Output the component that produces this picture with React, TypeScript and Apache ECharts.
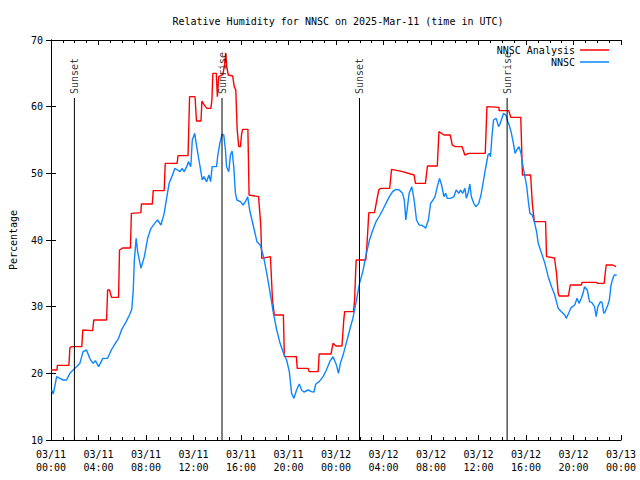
import React, { useEffect, useRef } from "react";
import * as echarts from "echarts";

// Hours since 2025-03-11 00:00 UTC, relative humidity (%)
const analysisPoints: [number, number][] = [
  [0.0, 20.5], [0.5, 20.5], [0.54, 21.2], [1.51, 21.2], [1.59, 23.8], [1.71, 24], [2.59, 24], [2.68, 26.5], [3.51, 26.4], [3.6, 28],
  [4.68, 28], [4.77, 32.5], [4.93, 32.5], [5.1, 31.4], [5.69, 31.4], [5.77, 38.5], [6.02, 38.8], [6.69, 38.8], [6.77, 44], [7.57, 44.1],
  [7.61, 45.4], [8.53, 45.4], [8.61, 47.4], [9.53, 47.4], [9.62, 51.5], [10.62, 51.5], [10.7, 52.65], [11.54, 52.65], [11.67, 61.5], [12.13, 61.5],
  [12.25, 57.85], [12.63, 57.85], [12.71, 60.85], [12.88, 60.3], [13.13, 59.75], [13.46, 59.75], [13.55, 61], [13.63, 65], [13.92, 65], [14.01, 61.5],
  [14.13, 64.5], [14.47, 64.8], [14.59, 66], [14.72, 68], [14.8, 66], [14.93, 64.75], [15.3, 64.6], [15.43, 63], [15.56, 62.5], [15.68, 56.5],
  [15.81, 54], [15.95, 54], [16.06, 56], [16.14, 56.6], [16.58, 56.6], [16.68, 46.75], [17.48, 46.5], [17.67, 42], [17.75, 37.25], [18.48, 37.5],
  [18.65, 31], [18.79, 29], [18.82, 28.75], [19.57, 28.75], [19.65, 22.5], [20.66, 22.5], [20.74, 20.75], [21.66, 20.75], [21.74, 20.25], [22.5, 20.25],
  [22.58, 22.9], [23.58, 22.9], [23.75, 24.5], [24.0, 24.1], [24.5, 24.1], [24.65, 27.9], [24.73, 29.25], [25.48, 29.25], [25.57, 31.1], [25.65, 35],
  [25.7, 37], [26.51, 37], [26.59, 38.8], [26.68, 41.5], [26.76, 44.1], [27.24, 44.1], [27.6, 47.5], [27.76, 47.75], [28.52, 47.75], [28.68, 50.6],
  [29.6, 50.25], [30.58, 49.75], [30.69, 48.5], [31.53, 48.5], [31.7, 51.1], [32.53, 51.1], [32.67, 56.25], [33.09, 55.75], [33.62, 55.75], [33.79, 54.25],
  [34.04, 54], [34.62, 54], [34.85, 52.75], [35.18, 53], [36.57, 53], [36.71, 60], [37.72, 59.9], [37.74, 59.4], [38.55, 59.4], [38.72, 58.4],
  [39.56, 58.4], [39.7, 49.75], [40.39, 49.75], [40.53, 45.5], [40.7, 42.75], [41.65, 42.75], [41.73, 37.5], [42.4, 37.3], [42.57, 35], [42.71, 32],
  [42.79, 31.6], [43.57, 31.6], [43.73, 33.25], [44.66, 33.25], [44.72, 33.65], [45.91, 33.65], [46.05, 33.5], [46.58, 33.5], [46.75, 36.25], [47.31, 36.25],
  [47.58, 36],
];

const observedPoints: [number, number][] = [
  [0.06, 17.5], [0.19, 16.9], [0.48, 19.5], [0.75, 19.25], [1.03, 19], [1.31, 19], [1.59, 20], [1.86, 20.5], [2.15, 21], [2.43, 21.5],
  [2.7, 23.25], [2.99, 23.5], [3.26, 22.25], [3.54, 21.5], [3.74, 21.9], [4.01, 21], [4.37, 22.25], [4.77, 22.25], [5.08, 23.5], [5.35, 24.3],
  [5.69, 25.25], [5.96, 26.6], [6.33, 27.75], [6.61, 28.75], [6.8, 29.6], [6.92, 32.25], [7.02, 37], [7.17, 40.25], [7.3, 38.25], [7.58, 35.75],
  [7.86, 37.5], [8.14, 40.25], [8.42, 41.75], [8.84, 42.75], [8.97, 43], [9.26, 42.25], [9.53, 44], [9.76, 46.5], [9.95, 48.5], [10.23, 49.75],
  [10.43, 50.75], [10.65, 50.5], [10.87, 50.25], [11.04, 50.75], [11.21, 50.25], [11.43, 51], [11.57, 51.75], [11.77, 51], [11.9, 55], [12.1, 56],
  [12.27, 54], [12.46, 52], [12.6, 50.5], [12.74, 49], [12.88, 49.5], [13.1, 48.75], [13.3, 49.75], [13.44, 48.75], [13.57, 51], [13.94, 51],
  [14.05, 52.75], [14.22, 54.5], [14.41, 55.9], [14.55, 55.75], [14.69, 53.5], [14.78, 51], [14.97, 50.25], [15.11, 52.75], [15.25, 53.35], [15.39, 51],
  [15.53, 47], [15.66, 46], [15.95, 45.75], [16.17, 45.25], [16.37, 45.75], [16.56, 46.5], [16.73, 44.5], [16.92, 43], [17.12, 41.5], [17.34, 39.75],
  [17.62, 39.25], [17.9, 37.5], [18.17, 35], [18.46, 32], [18.73, 29], [19.01, 26.5], [19.29, 24.5], [19.57, 23.1], [19.84, 22], [20.07, 20.25],
  [20.26, 17], [20.46, 16.25], [20.68, 17.5], [20.91, 18.4], [21.1, 17.5], [21.3, 17.2], [21.66, 17.5], [21.94, 17.25], [22.14, 17.2], [22.3, 18.4],
  [22.58, 18.75], [22.91, 19.5], [23.19, 20.5], [23.47, 21.75], [23.75, 22.5], [24.03, 21.3], [24.21, 20], [24.38, 21.6], [24.59, 22.7], [24.86, 24.5],
  [25.15, 26.5], [25.42, 28.25], [25.7, 30.75], [25.98, 33.5], [26.26, 35.25], [26.53, 37.75], [26.82, 40], [27.1, 41.5], [27.37, 42.75], [27.66, 43.6],
  [27.93, 44.5], [28.21, 45.5], [28.49, 46.5], [28.77, 47.25], [29.04, 47.6], [29.33, 47.5], [29.6, 47], [29.75, 46], [29.88, 43], [30.02, 45],
  [30.16, 47], [30.38, 48], [30.58, 46], [30.78, 43], [31.0, 42.25], [31.22, 42.2], [31.42, 42], [31.55, 41.75], [31.78, 43], [31.97, 45.5],
  [32.17, 46], [32.34, 46.5], [32.53, 48], [32.72, 49.25], [32.89, 48.25], [33.09, 46.5], [33.23, 47], [33.37, 46.25], [33.64, 46.25], [33.93, 46.5],
  [34.12, 47.5], [34.35, 47], [34.48, 47.5], [34.68, 47], [34.85, 47.75], [34.98, 46.25], [35.12, 47], [35.27, 48.4], [35.4, 46.5], [35.6, 45.5],
  [35.79, 45], [36.02, 45.5], [36.21, 46.75], [36.38, 48.5], [36.57, 50.5], [36.8, 52.75], [36.91, 53], [37.01, 52.5], [37.13, 55.5], [37.27, 58],
  [37.49, 58.25], [37.69, 57], [37.83, 57.5], [37.97, 58.25], [38.11, 59], [38.3, 58.75], [38.47, 57.75], [38.58, 57.25], [38.74, 56.25], [38.94, 54.5],
  [39.08, 53], [39.22, 53.5], [39.41, 54], [39.58, 53], [39.7, 51.5], [39.86, 50], [40.06, 48], [40.2, 45.75], [40.33, 44], [40.53, 43.75],
  [40.7, 42.75], [40.89, 41.25], [41.03, 39.5], [41.31, 38], [41.59, 36.5], [41.87, 34.5], [42.15, 33], [42.42, 31.75], [42.71, 29.75], [42.98, 29.25],
  [43.26, 28.75], [43.4, 28.25], [43.59, 29], [43.82, 29.9], [44.1, 30.25], [44.3, 31.25], [44.46, 30.5], [44.66, 31.25], [44.8, 32], [44.93, 33],
  [45.16, 32.5], [45.35, 30.75], [45.55, 30.6], [45.77, 30], [45.91, 28.5], [46.05, 30], [46.27, 30.75], [46.41, 30.6], [46.55, 29], [46.66, 29.2],
  [46.89, 30.25], [47.02, 31], [47.16, 33.25], [47.31, 34.25], [47.44, 34.75], [47.64, 34.75],
];

const eventHours = [1.97, 14.4, 25.98, 38.41];
const eventNames = ["Sunset", "Sunrise", "Sunset", "Sunrise"];
const eventLineTop = 61.3;

const seriesNames = ["NNSC Analysis", "NNSC"];
const seriesColors = ["#ff0000", "#0d86ff"];
const startDay = 11;
const titleText = "Relative Humidity for NNSC on 2025-Mar-11 (time in UTC)";
const yAxisTitle = "Percentage";

const FONT = "DejaVu Sans Mono";

function fmtHour(v: number): string {
  const day = startDay + Math.floor(v / 24 + 1e-9);
  const hh = Math.round(v - (day - startDay) * 24);
  const p = (n: number) => (n < 10 ? "0" + n : "" + n);
  return `03/${p(day)}\n${p(hh)}:00`;
}

export default function App() {
  const ref = useRef<HTMLDivElement>(null);
  useEffect(() => {
    if (!ref.current) return;
    const chart = echarts.init(ref.current, undefined, { renderer: "svg" });
    const black = "#000";
    const xBase = {
      type: "value",
      min: 0,
      max: 48,
      interval: 4,
      axisLine: { show: true, lineStyle: { color: black, width: 1 } },
      axisTick: { show: true, inside: true, length: 5, lineStyle: { color: black } },
      minorTick: { show: true, splitNumber: 4, length: 3, lineStyle: { color: black } },
      splitLine: { show: false },
    };
    const yBase = {
      type: "value",
      min: 10,
      max: 70,
      interval: 10,
      axisLine: { show: true, lineStyle: { color: black, width: 1 } },
      axisTick: { show: true, inside: true, length: 5, lineStyle: { color: black } },
      splitLine: { show: false },
    };
    const option: any = {
      animation: false,
      textStyle: { fontFamily: FONT },
      title: {
        text: titleText,
        left: 333,
        textAlign: "center",
        top: 11,
        textStyle: { fontFamily: FONT, fontSize: 10, fontWeight: "normal", color: black },
      },
      grid: { left: 46, right: 19, top: 40, bottom: 40 },
      legend: {
        data: seriesNames,
        orient: "vertical",
        align: "right",
        right: 26,
        top: 40,
        icon: "rect",
        itemWidth: 29,
        itemHeight: 1.5,
        itemGap: 2,
        textStyle: { fontFamily: FONT, fontSize: 10, color: black },
      },
      xAxis: [
        {
          ...xBase,
          position: "bottom",
          axisLabel: {
            show: true,
            formatter: fmtHour,
            color: black,
            fontFamily: FONT,
            fontSize: 10,
            lineHeight: 13,
            margin: 8,
            showMinLabel: true,
            showMaxLabel: true,
          },
        },
        { ...xBase, position: "top", axisLabel: { show: false } },
      ],
      yAxis: [
        {
          ...yBase,
          position: "left",
          name: yAxisTitle,
          nameLocation: "middle",
          nameGap: 33,
          nameTextStyle: { fontFamily: FONT, fontSize: 10, color: black },
          axisLabel: { color: black, fontFamily: FONT, fontSize: 10, margin: 8 },
        },
        { ...yBase, position: "right", axisLabel: { show: false } },
      ],
      series: [
        {
          name: seriesNames[0],
          type: "line",
          data: analysisPoints,
          symbol: "none",
          lineStyle: { color: seriesColors[0], width: 1.4 },
          itemStyle: { color: seriesColors[0] },
          z: 2,
        },
        {
          name: seriesNames[1],
          type: "line",
          data: observedPoints,
          symbol: "none",
          lineStyle: { color: seriesColors[1], width: 1.4 },
          itemStyle: { color: seriesColors[1] },
          z: 3,
        },
        ...eventHours.map((h) => ({
          type: "line",
          data: [
            [h, 10],
            [h, eventLineTop],
          ],
          symbol: "none",
          silent: true,
          lineStyle: { color: black, width: 1 },
          z: 4,
        })),
        {
          type: "scatter",
          data: eventHours.map((h, i) => ({ value: [h, eventLineTop], name: eventNames[i] })),
          symbolSize: 0,
          silent: true,
          label: {
            show: true,
            formatter: "{b}",
            position: "top",
            distance: 4,
            rotate: 90,
            align: "left",
            verticalAlign: "middle",
            fontFamily: FONT,
            fontSize: 10,
            color: black,
          },
          z: 5,
        },
      ],
    };
    chart.setOption(option);
    return () => chart.dispose();
  }, []);
  return (
    <div
      ref={ref}
      style={{ position: "fixed", left: 0, top: 0, width: 640, height: 480, background: "#fff" }}
    />
  );
}
